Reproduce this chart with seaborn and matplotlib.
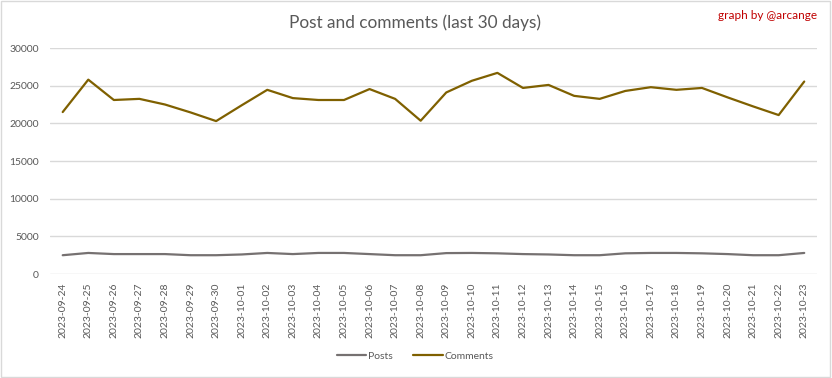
import pandas as pd
import seaborn as sns
import matplotlib.pyplot as plt
from matplotlib.patches import Rectangle

# Data
dates = [
    '2023-09-24', '2023-09-25', '2023-09-26', '2023-09-27', '2023-09-28',
    '2023-09-29', '2023-09-30', '2023-10-01', '2023-10-02', '2023-10-03',
    '2023-10-04', '2023-10-05', '2023-10-06', '2023-10-07', '2023-10-08',
    '2023-10-09', '2023-10-10', '2023-10-11', '2023-10-12', '2023-10-13',
    '2023-10-14', '2023-10-15', '2023-10-16', '2023-10-17', '2023-10-18',
    '2023-10-19', '2023-10-20', '2023-10-21', '2023-10-22', '2023-10-23',
]
posts = [
    2500, 2800, 2650, 2650, 2650, 2500, 2500, 2600, 2800, 2650,
    2800, 2800, 2650, 2500, 2500, 2780, 2800, 2750, 2650, 2600,
    2500, 2500, 2750, 2800, 2800, 2750, 2650, 2500, 2500, 2800,
]
comments = [
    21500, 25800, 23100, 23250, 22500, 21450, 20300, 22400, 24450, 23350,
    23100, 23100, 24550, 23250, 20350, 24100, 25650, 26700, 24700, 25100,
    23650, 23250, 24300, 24800, 24450, 24700, 23450, 22250, 21100, 25550,
]

df = pd.DataFrame({'date': dates, 'Posts': posts, 'Comments': comments})
long_df = df.melt(id_vars='date', var_name='series', value_name='count')

sns.set_style('white')
plt.rcParams['font.family'] = ['Lato', 'DejaVu Sans']

fig = plt.figure(figsize=(8.32, 3.78), dpi=100)
ax = fig.add_axes([0.060, 0.275, 0.922, 0.598])

sns.lineplot(data=long_df, x='date', y='count', hue='series',
             palette={'Posts': '#767171', 'Comments': '#7f6000'},
             linewidth=1.6, ax=ax)

ax.set_xlim(-0.5, len(dates) - 0.5)
ax.set_ylim(0, 30000)
ax.set_yticks(range(0, 30001, 5000))
ax.grid(axis='y', color='#d9d9d9', linewidth=1)
ax.set_axisbelow(True)
for s in ax.spines.values():
    s.set_visible(False)
ax.tick_params(axis='x', rotation=90, labelsize=7.5, colors='#595959', length=0, pad=6)
ax.tick_params(axis='y', labelsize=7.5, colors='#595959', length=0, pad=8)
ax.set_xlabel('')
ax.set_ylabel('')

ax.legend(loc='center', bbox_to_anchor=(0.499, 1 - 356 / 378), bbox_transform=fig.transFigure,
          ncol=2, frameon=False, fontsize=7.5, labelcolor='#595959', handlelength=2.8,
          columnspacing=2.0, handletextpad=0.2)

fig.text(0.499, 0.94, 'Post and comments (last 30 days)', ha='center', va='center',
         fontsize=12.4, color='#595959')
fig.text(0.982, 0.96, 'graph by @arcange', ha='right', va='center',
         fontsize=8.5, color='#c00000')

fig.patches.append(Rectangle((0.001, 0.002), 0.997, 0.995, transform=fig.transFigure,
                             fill=False, edgecolor='#d9d9d9', linewidth=1))

fig.savefig('out.png', dpi=100, facecolor='white')
